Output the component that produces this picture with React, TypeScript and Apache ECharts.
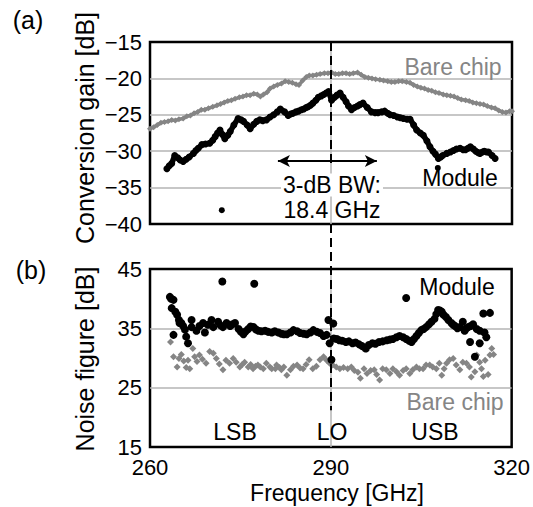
import React, { useEffect, useRef } from "react";
import * as echarts from "echarts";

const FONT = "Liberation Sans, Arial, Helvetica, sans-serif";
const GRAY = "#858585";

const xTicks = [260, 290, 320];

// (a) Conversion gain [dB]
const cgBareChip: [number, number][] = [
  [260, -26.9], [260.6, -26.7], [261.2, -26.4], [261.8, -26.1], [262.4, -26.0], [263, -25.9],
  [263.6, -25.7], [264.2, -25.8], [264.8, -25.6], [265.5, -25.5], [266.1, -25.2], [266.7, -25.1],
  [267.3, -24.8], [267.9, -24.6], [268.5, -24.3], [269.1, -24.3], [269.7, -24.1], [270.4, -23.9],
  [271.1, -23.7], [271.7, -23.5], [272.3, -23.3], [272.9, -23.1], [273.5, -23.0], [274.1, -22.8],
  [274.8, -22.6], [275.4, -22.5], [276.0, -22.3], [276.6, -22.3], [277.2, -22.1], [277.8, -22.2],
  [278.3, -22.5], [278.8, -22.2], [279.4, -21.9], [279.9, -21.4], [280.5, -21.1], [281.1, -20.9],
  [281.8, -20.7], [282.4, -20.4], [283.0, -20.5], [283.6, -20.6], [284.2, -20.8], [284.7, -20.9],
  [285.3, -20.3], [285.9, -19.8], [286.4, -19.6], [287.0, -19.6], [287.6, -19.5], [288.2, -19.4],
  [288.9, -19.3], [289.5, -19.3], [290.1, -19.2], [290.7, -19.4], [291.3, -19.4], [291.9, -19.3],
  [292.5, -19.3], [293.1, -19.4], [293.7, -19.3], [294.4, -19.2], [295.0, -19.5], [295.6, -19.8],
  [296.2, -19.9], [296.8, -20.0], [297.4, -20.1], [298.1, -20.2], [298.7, -20.3], [299.4, -20.4],
  [300.0, -20.5], [300.6, -20.5], [301.2, -20.4], [301.8, -20.4], [302.5, -20.5], [303.1, -20.6],
  [303.7, -20.9], [304.3, -21.1], [304.9, -21.3], [305.5, -21.4], [306.1, -21.6], [306.7, -21.7],
  [307.3, -21.9], [307.9, -22.0], [308.6, -22.2], [309.2, -22.3], [309.8, -22.4], [310.4, -22.5],
  [311.0, -22.7], [311.6, -22.9], [312.3, -23.0], [312.9, -23.1], [313.5, -23.3], [314.1, -23.4],
  [314.7, -23.5], [315.3, -23.6], [315.9, -23.8], [316.6, -24.0], [317.2, -24.1], [317.8, -24.4],
  [318.4, -24.6], [319.0, -24.7], [319.6, -24.5], [320, -24.5],
];

const cgModule: [number, number][] = [
  [262.8, -32.4], [263.2, -32.0], [263.6, -31.7], [264.1, -30.6], [264.6, -30.9], [265.0, -31.2],
  [265.5, -31.4], [266.0, -31.1], [266.5, -30.8], [267.2, -30.3], [267.6, -29.9], [268.0, -29.6],
  [268.6, -29.1], [269.2, -29.0], [269.9, -28.9], [270.4, -28.5], [270.8, -28.0], [271.2, -27.5],
  [271.6, -27.1], [272.0, -27.7], [272.4, -28.3], [272.9, -27.8], [273.3, -27.3], [273.9, -26.4],
  [274.6, -25.5], [275.1, -25.7], [275.5, -25.9], [276.1, -26.4], [276.6, -26.9], [277.2, -26.3],
  [277.7, -25.9], [278.2, -25.7], [278.7, -25.8], [279.3, -25.7], [279.9, -25.3], [280.5, -25.0],
  [281.1, -24.6], [281.6, -24.2], [282.3, -24.6], [282.9, -25.1], [283.3, -24.9], [283.7, -24.8],
  [284.2, -24.6], [284.6, -24.5], [285.1, -24.3], [285.5, -24.2], [285.9, -24.0], [286.2, -23.9],
  [286.6, -23.7], [287.0, -23.4], [287.5, -23.0], [287.9, -22.6], [288.4, -22.4], [288.8, -22.2],
  [289.2, -22.0], [289.6, -21.8], [290.1, -23.0], [290.6, -22.6], [291.0, -22.3], [291.5, -22.0],
  [292.0, -22.6], [292.5, -23.2], [292.9, -23.8], [293.4, -24.3], [293.9, -24.0], [294.4, -23.8],
  [294.8, -23.6], [295.3, -23.4], [296.0, -24.0], [296.7, -24.6], [297.3, -24.7], [297.8, -24.7],
  [298.4, -24.6], [298.9, -24.5], [299.4, -24.8], [299.8, -25.0], [300.4, -25.1], [301.0, -25.3],
  [301.5, -25.4], [302.0, -25.5], [302.6, -25.6], [303.1, -25.6], [303.7, -26.4], [304.2, -27.1],
  [304.8, -27.5], [305.3, -27.8], [305.9, -28.6], [306.4, -29.4], [306.9, -30.0], [307.3, -30.4],
  [307.8, -31.0], [308.2, -30.8], [308.5, -30.6], [309.2, -30.3], [309.8, -30.1], [310.3, -29.9],
  [310.8, -29.7], [311.4, -29.6], [311.9, -29.8], [312.3, -29.8], [312.7, -29.6], [313.1, -29.4],
  [313.6, -29.7], [314.0, -30.0], [314.4, -30.2], [314.7, -30.3], [315.1, -30.1], [315.4, -30.0],
  [315.8, -30.1], [316.1, -30.1], [316.7, -30.6], [317.2, -31.0],
];

const cgModuleIsolated: [number, number][] = [
  [271.9, -38.1], [307.7, -32.3],
];

// (b) Noise figure [dB]
const nfModule: [number, number][] = [
  [263.3, 40.3], [263.5, 40.0], [263.6, 38.4], [263.9, 39.8], [263.9, 33.9], [264.2, 37.8],
  [264.5, 37.3], [264.8, 36.4], [264.9, 35.9], [265.2, 35.9], [265.5, 35.4], [265.8, 34.8],
  [266.0, 33.6], [266.3, 32.5], [266.9, 36.4], [266.9, 35.2], [267.7, 34.6], [268.2, 35.4],
  [268.8, 35.9], [269.1, 34.3], [269.6, 35.6], [270.2, 36.4], [270.5, 35.2], [271.3, 36.1],
  [271.7, 35.5], [272.0, 42.9], [272.1, 35.2], [272.7, 35.9], [273.3, 35.4], [273.7, 35.7],
  [274.1, 35.9], [274.7, 34.9], [275.1, 34.4], [275.5, 34.0], [275.9, 34.5], [276.3, 34.9],
  [276.7, 35.3], [277.2, 35.2], [277.3, 42.5], [277.6, 34.8], [278.0, 34.6], [278.5, 34.5],
  [279.1, 34.6], [279.6, 34.4], [280.2, 34.3], [280.7, 34.5], [281.3, 34.3], [281.8, 34.1],
  [282.2, 34.0], [282.7, 34.0], [283.3, 34.3], [283.8, 34.7], [284.4, 34.5], [284.9, 34.2],
  [285.5, 34.1], [286.0, 34.0], [286.6, 34.3], [287.1, 34.7], [287.7, 34.4], [288.2, 34.2],
  [288.8, 33.7], [289.3, 33.9], [289.6, 36.4], [289.8, 32.5], [290.1, 29.7], [290.4, 35.8],
  [290.5, 33.3], [291.0, 33.2], [291.4, 33.0], [291.9, 32.9], [292.5, 32.7], [293.0, 32.8],
  [293.6, 32.5], [294.1, 32.6], [294.7, 32.3], [295.2, 32.0], [295.8, 31.6], [296.3, 32.2],
  [296.9, 32.5], [297.4, 32.4], [298.0, 32.7], [298.6, 32.8], [299.3, 33.0], [299.8, 33.1],
  [300.3, 33.2], [300.9, 33.5], [301.4, 33.7], [302.0, 33.5], [302.5, 33.2], [302.5, 40.1],
  [303.0, 32.9], [303.4, 32.7], [303.8, 33.2], [304.2, 33.7], [304.6, 34.2], [305.0, 34.7],
  [305.4, 34.9], [305.8, 35.2], [306.3, 35.7], [306.7, 36.1], [307.2, 36.6], [307.5, 37.4],
  [307.8, 38.1], [308.1, 38.0], [308.4, 37.8], [308.7, 37.3], [309.1, 36.9], [309.5, 36.4],
  [310.0, 35.9], [310.3, 35.6], [310.6, 35.4], [311.0, 35.0], [311.4, 35.2], [311.9, 36.1],
  [312.2, 34.6], [312.5, 35.0], [312.8, 35.2], [313.1, 32.7], [313.2, 35.4], [313.6, 35.7],
  [313.9, 30.2], [314.2, 34.9], [314.7, 34.6], [314.7, 32.5], [315.3, 37.5], [315.5, 34.3],
  [315.8, 33.5], [316.4, 37.6],
];

const nfBareChip: [number, number][] = [
  [263.4, 32.7], [263.9, 30.2], [264.5, 28.5], [264.8, 29.9], [265.2, 30.6], [265.6, 29.5],
  [266.0, 28.4], [266.3, 29.6], [266.6, 28.2], [267.1, 31.6], [267.4, 30.2], [267.8, 29.4],
  [268.2, 30.5], [268.7, 29.8], [269.3, 29.1], [269.9, 31.1], [270.5, 30.8], [271.0, 29.9],
  [271.5, 29.0], [272.1, 28.0], [272.6, 29.6], [273.2, 29.1], [273.8, 29.9], [274.3, 29.3],
  [274.9, 28.5], [275.3, 28.9], [275.7, 29.3], [276.3, 28.5], [276.7, 28.9], [277.1, 28.2],
  [277.5, 28.6], [277.9, 28.8], [278.3, 28.5], [278.8, 28.2], [279.3, 29.1], [279.9, 28.5],
  [280.2, 28.2], [280.8, 28.2], [281.0, 28.8], [281.5, 28.4], [281.8, 28.0], [282.2, 28.5],
  [282.7, 27.1], [283.3, 28.0], [283.8, 28.6], [284.4, 28.8], [284.9, 28.3], [285.4, 28.2],
  [285.9, 28.9], [286.4, 29.7], [287.0, 28.2], [287.6, 28.6], [288.2, 29.7], [288.8, 30.2],
  [289.3, 29.6], [289.8, 29.1], [290.3, 28.8], [290.9, 28.5], [291.5, 28.2], [292.1, 28.4],
  [292.8, 28.2], [293.4, 28.5], [293.9, 27.9], [294.5, 27.6], [294.9, 26.6], [295.5, 28.2],
  [296.0, 27.4], [296.6, 27.9], [297.2, 28.0], [297.6, 27.2], [298.1, 26.3], [298.6, 28.2],
  [299.2, 28.0], [299.8, 27.4], [300.3, 28.2], [300.9, 27.7], [301.4, 27.1], [302.0, 27.9],
  [302.5, 28.2], [303.1, 27.4], [303.6, 28.0], [304.2, 28.5], [304.7, 28.2], [305.3, 28.2],
  [305.8, 28.8], [306.4, 28.8], [306.9, 28.5], [307.5, 28.2], [308.0, 29.1], [308.4, 27.1],
  [308.8, 28.2], [309.2, 29.1], [309.7, 29.7], [310.3, 29.9], [310.8, 28.8], [311.4, 28.0],
  [311.9, 29.3], [312.5, 29.1], [313.0, 28.5], [313.3, 26.8], [313.9, 27.7], [314.2, 30.5],
  [314.7, 29.3], [315.0, 28.2], [315.3, 26.9], [315.6, 29.6], [316.1, 27.2], [316.4, 30.5],
  [316.7, 31.6], [317.0, 30.6],
];

// annotations
const loFreq = 290;
const bwArrow: [number, number, number] = [281.2, 297.6, -31.35]; // from, to, level
const dashTopEnd = -32.2;
const dashBottomEnd = 21.2;

const minusFmt = (v: number) => (v < 0 ? "\u2212" + Math.abs(v) : String(v));

export default function App() {
  const ref = useRef<HTMLDivElement>(null);
  useEffect(() => {
    document.body.style.margin = "0";
    if (!ref.current) return;
    const chart = echarts.init(ref.current, undefined, { renderer: "svg" });

    const gridLine = { show: true, showMinLine: false, showMaxLine: false, lineStyle: { color: "#b4b4b4", width: 1.5 } };
    const label = { color: "#000", fontSize: 22, fontFamily: FONT, lineHeight: 18 };

    chart.setOption({
      animation: false,
      backgroundColor: "#fff",
      grid: [
        { left: 150, top: 42, width: 362, height: 182, show: true, borderColor: "#000", borderWidth: 2.5, backgroundColor: "transparent" },
        { left: 150, top: 269, width: 362, height: 178, show: true, borderColor: "#000", borderWidth: 2.5, backgroundColor: "transparent" },
      ],
      xAxis: [
        {
          gridIndex: 0, type: "value", min: xTicks[0], max: xTicks[2], interval: 30,
          axisLabel: { show: false }, axisTick: { show: false }, axisLine: { show: false }, splitLine: gridLine,
        },
        {
          gridIndex: 1, type: "value", min: xTicks[0], max: xTicks[2], interval: 30,
          axisLabel: { ...label, margin: 11 }, axisTick: { show: false }, axisLine: { show: false }, splitLine: gridLine,
        },
      ],
      yAxis: [
        {
          gridIndex: 0, type: "value", min: -40, max: -15, interval: 5,
          axisLabel: { ...label, margin: 8, formatter: minusFmt }, axisTick: { show: false }, axisLine: { show: false }, splitLine: gridLine,
        },
        {
          gridIndex: 1, type: "value", min: 15, max: 45, interval: 10,
          axisLabel: { ...label, margin: 8 }, axisTick: { show: false }, axisLine: { show: false }, splitLine: gridLine,
        },
      ],
      series: [
        {
          type: "line", xAxisIndex: 0, yAxisIndex: 0, data: cgBareChip,
          symbol: "diamond", symbolSize: 6, showAllSymbol: true,
          lineStyle: { color: GRAY, width: 3.5 }, itemStyle: { color: GRAY, opacity: 1 },
          markLine: {
            silent: true, symbol: ["arrow", "arrow"], symbolSize: [9, 12],
            label: { show: false },
            lineStyle: { color: "#000", width: 2, type: "solid" },
            data: [[{ coord: [bwArrow[0], bwArrow[2]] }, { coord: [bwArrow[1], bwArrow[2]] }]],
          },
        },
        {
          type: "line", xAxisIndex: 0, yAxisIndex: 0, data: cgModule,
          symbol: "circle", symbolSize: 7, showAllSymbol: true,
          lineStyle: { color: "#000", width: 5.5 }, itemStyle: { color: "#000", opacity: 1 },
        },
        {
          type: "scatter", xAxisIndex: 0, yAxisIndex: 0, data: cgModuleIsolated,
          symbol: "circle", symbolSize: 6, itemStyle: { color: "#000", opacity: 1 },
        },
        {
          type: "scatter", xAxisIndex: 1, yAxisIndex: 1, data: nfBareChip,
          symbol: "diamond", symbolSize: 7, itemStyle: { color: GRAY, opacity: 1 },
        },
        {
          type: "scatter", xAxisIndex: 1, yAxisIndex: 1, data: nfModule,
          symbol: "circle", symbolSize: 8, itemStyle: { color: "#000", opacity: 1 },
        },
      ],
    });

    const px = chart.convertToPixel({ xAxisIndex: 0 }, loFreq) as number;
    const yTopStart = chart.convertToPixel({ yAxisIndex: 0 }, -15) as number;
    const yTopEnd = chart.convertToPixel({ yAxisIndex: 0 }, dashTopEnd) as number;
    const yTopBottom = chart.convertToPixel({ yAxisIndex: 0 }, -40) as number;
    const yBotEnd = chart.convertToPixel({ yAxisIndex: 1 }, dashBottomEnd) as number;

    const txt = (text: string, x: number, y: number, size: number, color = "#000", extra: any = {}) => ({
      type: "text", x, y, z: 100, silent: true,
      style: { text, fill: color, fontSize: size, fontFamily: FONT, textAlign: "center", textVerticalAlign: "middle", ...extra },
    });
    const dash = (y1: number, y2: number) => ({
      type: "line", z: 90, silent: true,
      shape: { x1: px, y1, x2: px, y2 },
      style: { stroke: "#000", lineWidth: 2, lineDash: [9, 5] },
    });

    chart.setOption({
      graphic: [
        dash(yTopStart, yTopEnd),
        dash(yTopBottom, yBotEnd),
        txt("(a)", 28, 20, 25),
        txt("(b)", 31, 270, 25),
        { ...txt("Conversion gain [dB]", 85, 128, 25), rotation: Math.PI / 2 },
        { ...txt("Noise figure [dB]", 85, 359, 25), rotation: Math.PI / 2 },
        txt("Bare chip", 453, 67, 23, GRAY),
        txt("Module", 460, 178, 23),
        txt("3-dB BW:", 332, 185, 23, "#000", { backgroundColor: "#fff", padding: [0, 2] }),
        txt("18.4 GHz", 332, 210, 23),
        txt("Module", 457, 287, 23),
        txt("Bare chip", 455, 402, 23, GRAY),
        txt("LSB", 235, 432, 23),
        txt("LO", 332, 432, 23),
        txt("USB", 435, 432, 23),
        txt("Frequency [GHz]", 337, 493, 23),
      ],
    });

    return () => chart.dispose();
  }, []);
  return <div ref={ref} style={{ width: 533, height: 507 }} />;
}
